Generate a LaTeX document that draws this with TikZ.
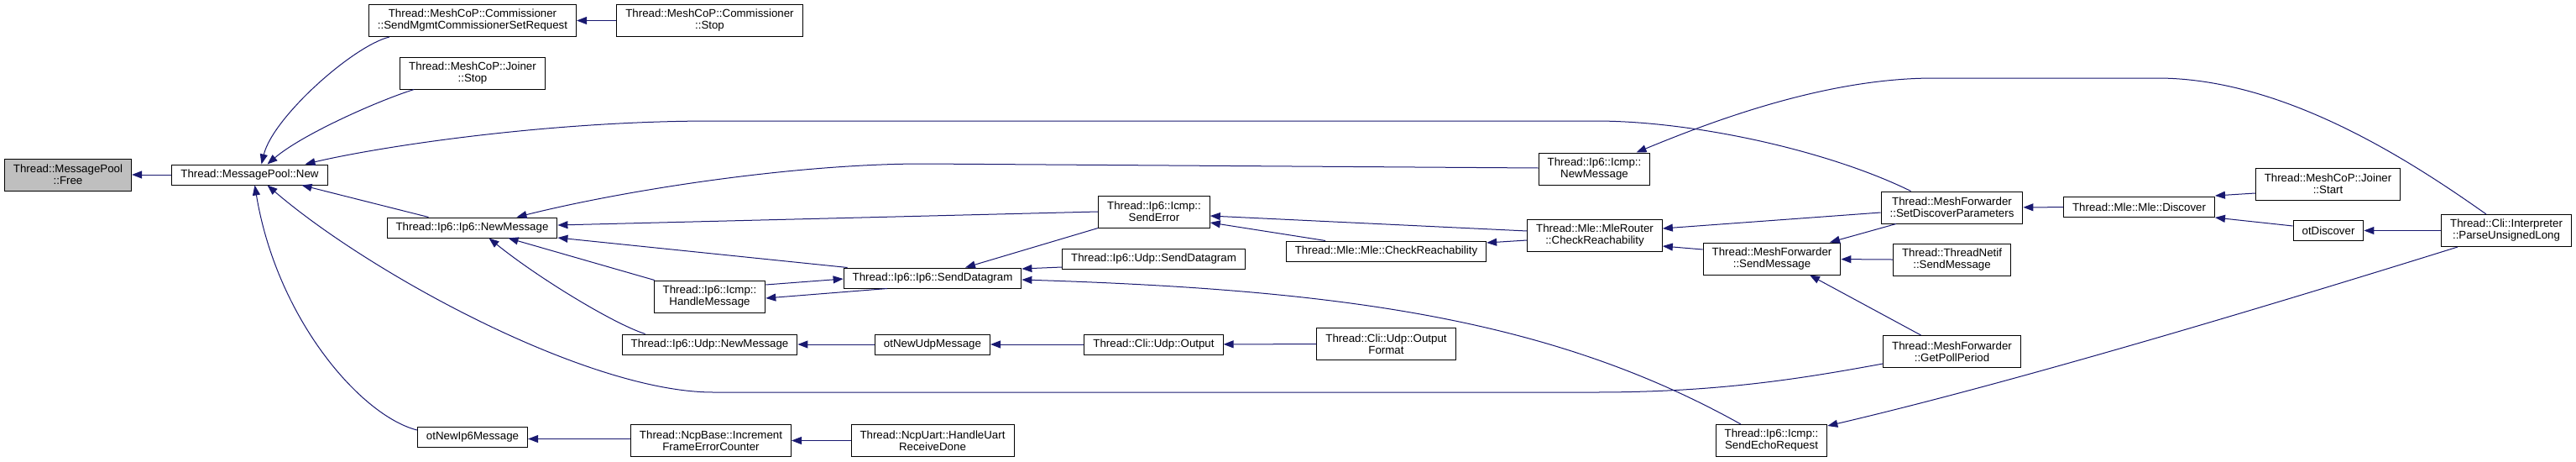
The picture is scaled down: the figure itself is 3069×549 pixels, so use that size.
\documentclass[tikz,border=0pt]{standalone}
\usepackage{fontspec}
\setmainfont{Liberation Sans}
\usetikzlibrary{arrows.meta}
\definecolor{edgeblue}{RGB}{25,25,112}

\begin{document}
\begin{tikzpicture}[x=1pt, y=-1pt,
  fn/.style={rectangle, draw=black, line width=1pt, fill=white, inner xsep=10.5pt, inner ysep=0pt, minimum height=24pt, align=center, font=\fontsize{13.3}{14}\selectfont},
  fn2/.style={fn, minimum height=38pt},
  call/.style={draw=edgeblue, line width=1pt, -{Triangle[length=12pt, width=9pt]}}]
\useasboundingbox (0,0) rectangle (3069,549);

\node[fn2, fill=black!25] (free) at (81,208) {Thread::MessagePool\\::Free};
\node[fn] (new) at (297.5,208) {Thread::MessagePool::New};
\node[fn2] (cset) at (563,24.5) {Thread::MeshCoP::Commissioner\\::SendMgmtCommissionerSetRequest};
\node[fn2] (cstop) at (845.5,24.5) {Thread::MeshCoP::Commissioner\\::Stop};
\node[fn2] (jstop) at (563,87) {Thread::MeshCoP::Joiner\\::Stop};
\node[fn] (ipnew) at (562.5,271) {Thread::Ip6::Ip6::NewMessage};
\node[fn2] (icmphandle) at (845.5,353) {Thread::Ip6::Icmp::\\HandleMessage};
\node[fn] (udpnew) at (845.5,410) {Thread::Ip6::Udp::NewMessage};
\node[fn] (otip6) at (563,520) {otNewIp6Message};
\node[fn2] (ncpinc) at (847,524.5) {Thread::NcpBase::Increment\\FrameErrorCounter};
\node[fn2] (ncpuart) at (1111,524.5) {Thread::NcpUart::HandleUart\\ReceiveDone};
\node[fn] (senddg) at (1111,331) {Thread::Ip6::Ip6::SendDatagram};
\node[fn] (otudp) at (1111,410) {otNewUdpMessage};
\node[fn] (cliout) at (1374.5,410) {Thread::Cli::Udp::Output};
\node[fn2] (clifmt) at (1651.5,409.5) {Thread::Cli::Udp::Output\\Format};
\node[fn2] (senderr) at (1375,252) {Thread::Ip6::Icmp::\\SendError};
\node[fn] (udpsend) at (1374.5,308.5) {Thread::Ip6::Udp::SendDatagram};
\node[fn] (mlecheck) at (1651.5,299) {Thread::Mle::Mle::CheckReachability};
\node[fn2] (routercheck) at (1900,280) {Thread::Mle::MleRouter\\::CheckReachability};
\node[fn2] (icmpnew) at (1899.5,201) {Thread::Ip6::Icmp::\\NewMessage};
\node[fn2] (setdisc) at (2325.5,247) {Thread::MeshForwarder\\::SetDiscoverParameters};
\node[fn2] (mfsend) at (2111,308) {Thread::MeshForwarder\\::SendMessage};
\node[fn2] (netifsend) at (2325.5,309.5) {Thread::ThreadNetif\\::SendMessage};
\node[fn2] (pollperiod) at (2325.5,418.5) {Thread::MeshForwarder\\::GetPollPeriod};
\node[fn2] (echoreq) at (2110.5,524.5) {Thread::Ip6::Icmp::\\SendEchoRequest};
\node[fn] (discover) at (2548.5,246.5) {Thread::Mle::Mle::Discover};
\node[fn2] (jstart) at (2773.5,219) {Thread::MeshCoP::Joiner\\::Start};
\node[fn] (otdisc) at (2774,274.5) {otDiscover};
\node[fn2] (parse) at (2986,274.5) {Thread::Cli::Interpreter\\::ParseUnsignedLong};

% callers of MessagePool::New
\draw[call] (new) -- (free);
\draw[call] ([xshift=25pt]cset.south west) .. controls (420,55) and (325,140) .. ([xshift=14pt]new.north);
\draw[call] ([xshift=17pt]jstop.south west) .. controls (450,120) and (360,160) .. ([xshift=21pt]new.north);
\draw[call] ([xshift=-49pt]setdisc.north) .. controls (2180,180) and (2020,144) .. (1900,144) -- (850,144) .. controls (650,144) and (450,175) .. ([xshift=66pt]new.north);
\draw[call] ([xshift=-52pt]ipnew.north) -- ([xshift=62pt]new.south);
\draw[call] ([yshift=8pt]otip6.west) .. controls (430,495) and (330,380) .. ([xshift=6pt]new.south);
\draw[call] ([yshift=-14.5pt]pollperiod.west) .. controls (2150,450) and (2050,467) .. (1900,467) -- (850,467) .. controls (700,467) and (440,325) .. ([xshift=21pt]new.south);

% Ip6 layer
\draw[call] ([yshift=1pt]icmpnew.west) -- (1100,195) .. controls (950,195) and (750,225) .. ([xshift=53pt]ipnew.north);
\draw[call] (senderr.west) -- ([yshift=3pt]ipnew.east);
\draw[call] ([xshift=5pt]senddg.north west) -- ([yshift=-12pt]ipnew.east);
\draw[call] ([xshift=1pt]icmphandle.north west) -- ([xshift=43pt]ipnew.south);
\draw[call] ([xshift=28pt]udpnew.north west) .. controls (730,385) and (640,330) .. ([xshift=20pt]ipnew.south);
\draw[call] ([yshift=14pt]icmphandle.east) -- ([yshift=-1pt]senddg.west);
\draw[call] ([xshift=-54pt]senddg.south) -- ([yshift=-2pt]icmphandle.east);
\draw[call] (senderr.south west) -- ([xshift=39pt]senddg.north);
\draw[call] ([yshift=-9.5pt]udpsend.west) -- ([yshift=11pt]senddg.east);
\draw[call] ([xshift=-36.5pt]echoreq.north) .. controls (1850,380) and (1600,345) .. ([yshift=-2pt]senddg.east);

% Mle and MeshForwarder
\draw[call] ([yshift=5pt]routercheck.west) -- ([yshift=-5pt]senderr.east);
\draw[call] ([xshift=-72.5pt]mlecheck.north) -- ([yshift=-13pt]senderr.east);
\draw[call] ([yshift=-6pt]routercheck.west) -- ([yshift=10pt]mlecheck.east);
\draw[call] ([yshift=-6pt]setdisc.west) -- ([yshift=8pt]routercheck.east);
\draw[call] ([yshift=11pt]mfsend.west) -- ([yshift=-13pt]routercheck.east);
\draw[call] ([xshift=-24pt]parse.north) .. controls (2870,190) and (2720,93) .. (2570,93) -- (2304,93) .. controls (2180,93) and (2050,140) .. ([xshift=50pt]icmpnew.north);
\draw[call] (discover) -- (setdisc);
\draw[call] ([xshift=-66.5pt]setdisc.south) -- ([xshift=69pt]mfsend.north);
\draw[call] (netifsend) -- (mfsend);
\draw[call] ([xshift=-37pt]pollperiod.north) -- ([xshift=45pt]mfsend.south);
\draw[call] ([yshift=-11pt]jstart.west) -- ([yshift=13.5pt]discover.east);
\draw[call] ([yshift=5.5pt]otdisc.west) -- ([yshift=-12.5pt]discover.east);
\draw[call] (parse) -- (otdisc);
\draw[call] ([xshift=-58pt]parse.south) .. controls (2700,365) and (2400,455) .. ([yshift=17.5pt]echoreq.east);

% short chains
\draw[call] (cstop) -- (cset);
\draw[call] ([yshift=2pt]ncpinc.west) -- ([yshift=-2.5pt]otip6.east);
\draw[call] (ncpuart) -- (ncpinc);
\draw[call] (otudp) -- (udpnew);
\draw[call] (cliout) -- (otudp);
\draw[call] (clifmt) -- (cliout);
\end{tikzpicture}
\end{document}
